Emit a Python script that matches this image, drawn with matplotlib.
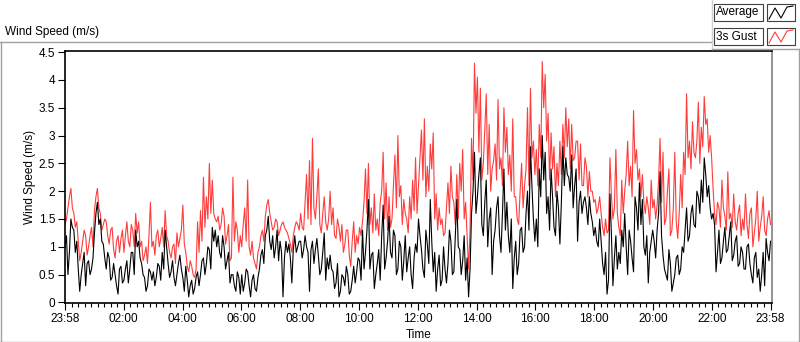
import numpy as np
import matplotlib
matplotlib.use("Agg")
import matplotlib.pyplot as plt
from matplotlib.patches import Rectangle
from matplotlib.lines import Line2D

plt.rcParams['font.family'] = ['Liberation Sans', 'DejaVu Sans']

# ---- data: 3-minute samples; *_a are the samples on the 6-minute grid,
# *_b the samples 3 minutes later (one row per hour) ----
gust_a = [
    1.4, 1.7, 2.05, 1.6, 1.45, 0.75, 1.1, 1.2, 1.0, 1.35,
    1.65, 2.05, 1.6, 1.4, 1.45, 1.05, 1.35, 0.8, 1.2, 1.15,
    0.9, 1.45, 1.0, 1.3, 1.6, 1.45, 1.1, 0.85, 0.7, 1.8,
    1.1, 1.2, 1.0, 1.35, 1.65, 1.1, 0.8, 1.05, 1.25, 1.15,
    1.75, 0.9, 0.55, 0.65, 0.45, 1.45, 1.65, 2.25, 1.9, 2.5,
    2.2, 1.5, 1.55, 1.4, 1.55, 1.2, 0.75, 2.25, 1.45, 0.9,
    1.0, 1.7, 2.2, 0.85, 0.8, 0.6, 1.0, 1.3, 1.55, 1.85,
    1.45, 1.35, 1.45, 1.3, 1.45, 1.3, 1.15, 0.9, 1.35, 1.4,
    1.6, 1.3, 2.3, 2.55, 2.95, 1.5, 2.4, 1.25, 1.9, 1.3,
    2.0, 1.7, 1.15, 1.35, 1.4, 1.05, 1.3, 0.65, 1.45, 1.2,
    1.35, 1.45, 2.4, 2.5, 1.7, 1.95, 1.5, 1.8, 2.7, 2.15,
    1.9, 1.5, 2.65, 3.0, 2.1, 1.85, 1.5, 1.9, 2.2, 2.6,
    2.1, 3.1, 3.3, 2.45, 2.85, 3.05, 1.95, 1.7, 1.5, 1.25,
    2.15, 2.45, 1.8, 2.3, 2.5, 2.75, 1.8, 0.6, 2.95, 4.3,
    4.05, 3.85, 2.5, 3.75, 3.2, 2.4, 2.85, 3.65, 2.6, 3.5,
    3.15, 2.65, 3.3, 1.9, 1.4, 2.5, 2.1, 3.5, 3.85, 2.9,
    2.75, 3.2, 4.33, 4.1, 3.4, 3.05, 2.8, 2.5, 2.9, 3.2,
    3.5, 3.3, 3.2, 2.6, 2.9, 2.85, 2.1, 2.45, 2.35, 2.0,
    1.85, 1.7, 1.6, 1.2, 1.25, 2.6, 1.5, 2.75, 1.35, 2.2,
    2.0, 2.9, 2.45, 3.45, 2.75, 2.4, 2.3, 1.6, 1.7, 2.2,
    1.85, 1.75, 2.95, 2.7, 1.5, 2.4, 1.3, 2.7, 1.15, 2.3,
    2.7, 3.75, 2.9, 3.25, 2.6, 3.6, 3.15, 3.7, 3.3, 3.0,
    2.05, 1.4, 1.7, 2.2, 1.55, 2.35, 1.6, 1.95, 1.3, 1.75,
    1.5, 1.95, 1.15, 1.7, 1.25, 2.0, 1.35, 1.9, 1.2, 1.65,
]
gust_b = [
    1.5, 1.9, 1.7, 1.35, 1.1, 0.9, 1.3, 0.85, 1.2, 1.0,
    1.9, 1.7, 1.3, 1.5, 1.2, 1.3, 0.95, 1.1, 0.9, 1.3,
    1.2, 1.1, 1.4, 1.0, 1.25, 1.0, 0.75, 1.0, 1.2, 1.0,
    0.85, 1.3, 1.15, 1.0, 1.2, 0.9, 1.0, 0.7, 1.0, 1.3,
    1.05, 0.65, 0.75, 0.5, 0.6, 0.9, 1.1, 1.35, 1.5, 1.6,
    1.6, 1.45, 1.3, 1.7, 1.05, 1.4, 0.8, 1.1, 1.3, 1.2,
    1.4, 1.1, 1.0, 1.1, 0.7, 0.9, 1.2, 1.1, 1.75, 1.6,
    1.3, 1.5, 1.2, 1.4, 1.35, 1.25, 1.05, 1.2, 1.45, 1.3,
    1.35, 1.8, 1.5, 1.4, 1.7, 1.9, 1.4, 1.6, 1.45, 1.5,
    1.4, 1.2, 1.5, 1.1, 0.9, 1.3, 0.85, 1.1, 0.9, 1.05,
    1.2, 1.8, 1.6, 1.4, 1.25, 1.3, 1.2, 2.0, 1.5, 1.3,
    1.35, 2.1, 1.7, 1.9, 1.4, 1.6, 1.25, 1.5, 1.65, 1.6,
    2.6, 2.2, 1.9, 2.0, 2.4, 1.5, 1.3, 1.4, 1.2, 1.7,
    1.6, 1.9, 1.4, 1.5, 2.0, 1.5, 1.2, 1.3, 2.2, 3.4,
    2.7, 2.2, 3.1, 2.3, 2.0, 2.55, 2.2, 2.4, 2.1, 2.7,
    2.3, 2.0, 1.9, 1.5, 2.0, 1.7, 2.4, 2.1, 2.6, 2.3,
    2.1, 2.6, 3.5, 2.9, 2.2, 2.4, 1.9, 2.1, 2.3, 2.6,
    2.8, 2.4, 2.55, 2.9, 2.2, 2.1, 2.6, 1.9, 2.0, 1.8,
    1.6, 1.9, 1.35, 1.5, 1.3, 1.9, 1.7, 1.6, 1.2, 1.6,
    2.3, 2.1, 1.9, 2.5, 2.2, 1.9, 1.8, 1.9, 1.4, 1.7,
    1.5, 2.2, 1.8, 1.4, 2.0, 1.2, 1.7, 1.45, 1.6, 1.7,
    2.3, 2.6, 2.4, 2.7, 2.9, 2.5, 2.8, 3.2, 2.7, 2.6,
    1.6, 1.8, 1.35, 1.7, 1.3, 1.5, 1.35, 1.45, 1.6, 1.2,
    1.3, 1.4, 1.6, 1.0, 1.5, 1.1, 1.55, 1.3, 1.5, 1.4,
]
average_a = [
    1.0, 0.5, 1.5, 1.3, 1.1, 0.2, 0.7, 0.3, 0.75, 0.6,
    1.25, 1.8, 1.5, 1.05, 0.6, 0.8, 0.45, 0.5, 0.15, 0.65,
    0.4, 0.75, 0.6, 0.9, 1.3, 1.1, 0.7, 0.45, 0.3, 0.55,
    0.55, 0.45, 0.65, 0.9, 1.3, 0.7, 0.55, 0.45, 0.5, 0.85,
    0.45, 0.65, 0.1, 0.4, 0.25, 0.55, 0.5, 0.8, 0.7, 0.95,
    1.35, 1.3, 1.2, 0.8, 1.0, 0.75, 0.35, 0.5, 0.2, 0.45,
    0.5, 0.35, 0.55, 0.1, 0.5, 0.2, 0.6, 0.95, 1.2, 1.55,
    0.95, 0.8, 1.3, 1.1, 0.1, 1.1, 1.05, 0.35, 1.2, 1.0,
    1.1, 0.95, 1.0, 0.2, 1.1, 0.95, 0.85, 0.6, 1.25, 0.8,
    0.85, 0.55, 0.35, 0.1, 0.5, 0.3, 0.5, 0.2, 0.65, 0.55,
    0.75, 1.3, 0.9, 1.85, 0.85, 0.25, 0.7, 0.4, 1.75, 0.8,
    1.55, 0.8, 1.2, 0.6, 1.0, 0.75, 0.55, 1.0, 0.25, 1.05,
    1.5, 0.95, 0.45, 1.05, 1.85, 0.55, 0.2, 0.85, 0.4, 0.6,
    0.7, 1.1, 0.55, 1.85, 0.95, 0.75, 0.4, 0.1, 1.6, 2.7,
    1.9, 2.6, 1.2, 2.2, 1.5, 0.5, 1.3, 1.9, 0.9, 2.4,
    1.8, 0.9, 0.25, 1.1, 0.7, 1.35, 1.0, 2.0, 2.8, 1.5,
    1.5, 2.4, 3.0, 2.7, 1.9, 2.4, 1.35, 2.0, 1.05, 2.8,
    2.6, 2.25, 2.65, 2.1, 1.1, 2.0, 1.8, 1.7, 1.9, 1.45,
    1.35, 1.0, 1.1, 0.5, 0.15, 1.95, 0.3, 1.2, 0.9, 1.3,
    1.6, 0.5, 1.1, 0.55, 1.7, 2.15, 1.85, 0.85, 0.35, 1.1,
    1.1, 1.3, 2.35, 0.85, 0.5, 0.95, 0.2, 0.5, 0.85, 0.6,
    0.9, 1.7, 1.2, 1.75, 1.35, 1.9, 2.2, 2.6, 1.9, 1.7,
    1.6, 0.55, 1.3, 0.8, 1.35, 0.95, 1.45, 0.85, 1.2, 0.7,
    0.9, 0.6, 1.05, 0.5, 0.8, 0.45, 0.2, 0.9, 1.15, 0.75,
]
average_b = [
    1.2, 0.9, 1.35, 0.9, 0.6, 0.5, 0.9, 0.7, 0.5, 0.8,
    1.6, 1.4, 1.1, 0.8, 0.9, 0.4, 0.7, 0.3, 0.6, 0.35,
    0.6, 0.35, 0.9, 0.5, 1.0, 0.8, 0.5, 0.2, 0.6, 0.4,
    0.3, 0.7, 0.4, 0.6, 1.0, 0.45, 0.75, 0.3, 0.7, 0.6,
    0.2, 0.4, 0.3, 0.15, 0.45, 0.3, 0.75, 0.5, 1.0, 0.6,
    1.1, 1.0, 0.9, 1.2, 0.6, 0.9, 0.5, 0.3, 0.55, 0.15,
    0.2, 0.6, 0.3, 0.4, 0.25, 0.45, 0.85, 0.7, 1.3, 1.1,
    1.2, 1.0, 0.75, 0.9, 0.8, 0.9, 0.8, 0.95, 0.9, 1.1,
    0.8, 1.2, 0.9, 0.95, 0.7, 1.15, 0.5, 0.9, 0.4, 0.6,
    0.6, 0.25, 0.7, 0.2, 0.45, 0.65, 0.15, 0.4, 0.35, 0.8,
    0.4, 0.6, 1.3, 0.6, 0.9, 0.5, 0.95, 1.2, 0.6, 1.1,
    0.9, 1.3, 0.5, 1.1, 0.4, 1.2, 0.8, 0.5, 0.8, 0.9,
    1.2, 0.6, 1.3, 0.7, 1.1, 0.9, 0.6, 0.3, 1.0, 0.35,
    1.3, 0.5, 1.2, 1.0, 0.5, 1.2, 0.8, 0.6, 2.0, 1.6,
    2.3, 1.4, 1.8, 1.0, 1.7, 1.1, 1.7, 1.2, 1.6, 1.3,
    1.2, 1.5, 0.8, 0.5, 1.3, 0.9, 1.6, 1.3, 2.1, 1.1,
    1.0, 1.9, 2.2, 1.6, 1.3, 1.9, 1.2, 1.7, 1.8, 2.1,
    2.3, 2.0, 1.7, 2.4, 1.8, 1.6, 1.9, 1.4, 1.6, 1.2,
    1.1, 1.5, 0.7, 0.9, 0.4, 1.2, 0.8, 0.6, 0.7, 1.0,
    1.0, 1.3, 0.8, 1.9, 1.3, 1.4, 1.0, 1.2, 0.9, 1.3,
    0.8, 1.6, 1.2, 0.6, 0.4, 0.7, 0.35, 0.8, 0.5, 1.0,
    1.3, 1.1, 1.6, 1.4, 2.0, 1.6, 1.8, 2.3, 2.1, 1.5,
    1.4, 0.9, 0.7, 1.1, 0.9, 1.2, 0.75, 1.1, 0.65, 1.0,
    0.6, 1.0, 0.7, 0.35, 0.9, 0.6, 0.5, 0.3, 0.9, 1.1,
]
time_labels = ['23:58', '02:00', '04:00', '06:00', '08:00', '10:00', '12:00',
               '14:00', '16:00', '18:00', '20:00', '22:00', '23:58']
y_ticks = [0, 0.5, 1, 1.5, 2, 2.5, 3, 3.5, 4, 4.5]
y_labels = ['0', '0.5', '1', '1.5', '2', '2.5', '3', '3.5', '4', '4.5']

gust = np.column_stack([gust_a, gust_b]).ravel()
average = np.column_stack([average_a, average_b]).ravel()

W, H = 800, 342
fig = plt.figure(figsize=(W / 100, H / 100), dpi=100)
fig.patch.set_facecolor('white')

def px(x0, y0, x1, y1):
    return [x0 / W, 1 - y1 / H, (x1 - x0) / W, (y1 - y0) / H]

ax = fig.add_axes(px(65, 51, 772, 303))
t = np.linspace(0, 24, len(gust))
ax.plot(t, gust, color='#ff3c3c', lw=0.8)
ax.plot(t, average, color='black', lw=0.8)
ax.set_xlim(0, 24.05)
ax.set_ylim(-0.01, 4.52)
ax.set_xticks(np.arange(0, 25, 2))
ax.set_xticklabels(time_labels)
ax.set_xticks(np.arange(0, 24.01, 2 / 9), minor=True)
ax.set_yticks(y_ticks)
ax.set_yticklabels(y_labels)
ax.tick_params(axis='both', which='major', length=5, width=0.8, labelsize=8.5, pad=2, colors='black')
ax.tick_params(axis='x', which='minor', length=3, width=0.8)
for s in ['left', 'top', 'bottom']:
    ax.spines[s].set_color('black')
    ax.spines[s].set_linewidth(1.2)
ax.spines['right'].set_color('#808080')
ax.spines['right'].set_linewidth(1.2)
ax.set_xlabel('Time', fontsize=8.5, labelpad=3)
ax.set_ylabel('Wind Speed (m/s)', fontsize=8.5, labelpad=2)

# outer frame
gray = '#a0a0a0'
def hline(x0, x1, y, c=gray, lw=1):
    fig.add_artist(Line2D([x0 / W, x1 / W], [1 - y / H, 1 - y / H], color=c, lw=lw))
def vline(x, y0, y1, c=gray, lw=1):
    fig.add_artist(Line2D([x / W, x / W], [1 - y0 / H, 1 - y1 / H], color=c, lw=lw))

hline(0, 712, 42)
vline(0.5, 42, 342)
hline(0, 800, 341.5)
vline(799, 49, 342)
vline(712, 0, 49, c='#d0d0d0')
hline(712, 800, 49)

fig.text(5 / W, 1 - 32 / H, 'Wind Speed (m/s)', fontsize=8.5, va='center', ha='left')

# legend
def box(x0, y0, x1, y1):
    fig.add_artist(Rectangle((x0 / W, 1 - y1 / H), (x1 - x0) / W, (y1 - y0) / H,
                             transform=fig.transFigure, facecolor='white',
                             edgecolor='#404040', lw=0.8))

for (label, col, y0) in [('Average', 'black', 4), ('3s Gust', '#ff3c3c', 28)]:
    box(714, y0, 763, y0 + 17)
    fig.text(716 / W, 1 - (y0 + 8.5) / H, label, fontsize=8.5, va='center', ha='left')
    box(767, y0, 795, y0 + 17)
    zx = np.array([769, 775, 781, 787, 793])
    zy = np.array([y0 + 15, y0 + 4, y0 + 14, y0 + 3, y0 + 2])
    fig.add_artist(Line2D(zx / W, 1 - zy / H, color=col, lw=0.8))

fig.savefig('out.png', dpi=100)
